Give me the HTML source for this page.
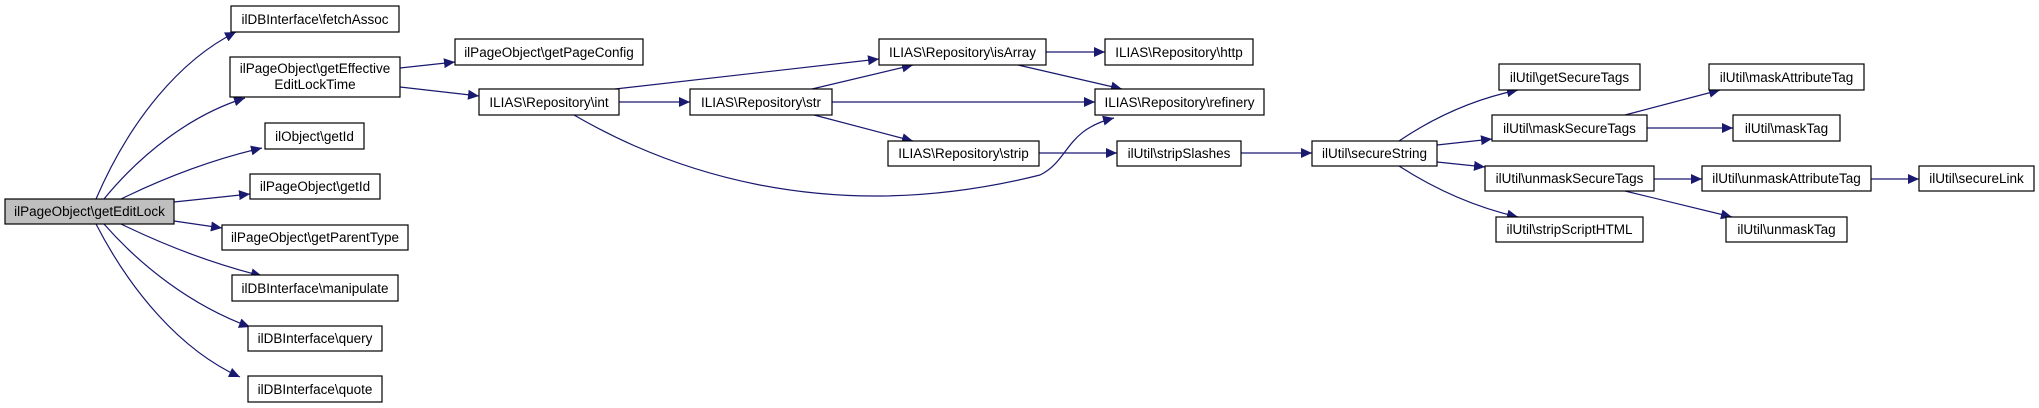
<!DOCTYPE html>
<html><head><meta charset="utf-8"><style>
html,body{margin:0;padding:0;background:#fff;}
svg{display:block;}
text{font-family:"Liberation Sans",sans-serif;font-size:13.5px;fill:#000;}
</style></head><body>
<svg width="2039" height="408" viewBox="0 0 2039 408" xmlns="http://www.w3.org/2000/svg">
<defs>
<marker id="a" markerUnits="userSpaceOnUse" markerWidth="12" markerHeight="10" refX="11" refY="5" orient="auto">
<path d="M0,0 L11,5 L0,10 Z" fill="#191970"/>
</marker>
</defs>
<g fill="none" stroke="#191970" stroke-width="1.2" marker-end="url(#a)">
<path d="M96,199 C130,120 180,60 236,32"/>
<path d="M104,199 C140,155 190,115 245,98"/>
<path d="M121,199 C160,180 210,160 262,148"/>
<path d="M174,202 L250,194"/>
<path d="M174,221 L222,228"/>
<path d="M121,224 C160,243 210,263 262,276"/>
<path d="M104,224 C140,265 190,305 250,327"/>
<path d="M96,224 C130,290 180,350 240,377"/>
<path d="M400,68 L455,62"/>
<path d="M400,87 L479,96"/>
<path d="M615,89 L879,59"/>
<path d="M619,102 L690,102"/>
<path d="M574,115 C660,165 820,230 1040,175 C1070,160 1065,130 1114,118"/>
<path d="M812,89 L913,65"/>
<path d="M832,102 L1095,102"/>
<path d="M814,115 L913,141"/>
<path d="M1046,52 L1105,52"/>
<path d="M1018,65 L1122,89"/>
<path d="M1039,153 L1117,153"/>
<path d="M1241,153 L1312,153"/>
<path d="M1399,141 C1430,120 1470,100 1518,90"/>
<path d="M1437,145 L1492,139"/>
<path d="M1437,162 L1485,167"/>
<path d="M1399,166 C1430,186 1470,206 1518,217"/>
<path d="M1625,115 L1720,90"/>
<path d="M1647,128 L1733,128"/>
<path d="M1654,179 L1702,179"/>
<path d="M1625,191 L1732,217"/>
<path d="M1871,179 L1919,179"/>
</g>
<g stroke="#000" stroke-width="1.2" fill="#fff">
<rect x="5" y="199" width="169" height="25" fill="#bfbfbf"/>
<rect x="231" y="6" width="168" height="26"/>
<rect x="230" y="57" width="170" height="40"/>
<rect x="455" y="39" width="188" height="26"/>
<rect x="479" y="89" width="140" height="26"/>
<rect x="265" y="123" width="99" height="26"/>
<rect x="250" y="174" width="130" height="25"/>
<rect x="222" y="225" width="186" height="25"/>
<rect x="232" y="275" width="166" height="26"/>
<rect x="248" y="326" width="134" height="25"/>
<rect x="248" y="376" width="134" height="26"/>
<rect x="690" y="89" width="142" height="26"/>
<rect x="879" y="39" width="167" height="26"/>
<rect x="1105" y="39" width="148" height="26"/>
<rect x="1095" y="89" width="169" height="26"/>
<rect x="888" y="141" width="151" height="25"/>
<rect x="1117" y="141" width="124" height="25"/>
<rect x="1312" y="141" width="125" height="25"/>
<rect x="1499" y="64" width="141" height="26"/>
<rect x="1492" y="115" width="155" height="26"/>
<rect x="1485" y="166" width="169" height="25"/>
<rect x="1496" y="217" width="147" height="25"/>
<rect x="1709" y="64" width="155" height="26"/>
<rect x="1733" y="115" width="107" height="26"/>
<rect x="1702" y="166" width="169" height="25"/>
<rect x="1726" y="217" width="121" height="25"/>
<rect x="1919" y="166" width="115" height="25"/>
</g>
<g text-anchor="middle">
<text x="89.5" y="216">ilPageObject\getEditLock</text>
<text x="315" y="24">ilDBInterface\fetchAssoc</text>
<text x="315" y="73">ilPageObject\getEffective</text>
<text x="315" y="89">EditLockTime</text>
<text x="549" y="57">ilPageObject\getPageConfig</text>
<text x="549" y="107">ILIAS\Repository\int</text>
<text x="314.5" y="141">ilObject\getId</text>
<text x="315" y="191">ilPageObject\getId</text>
<text x="315" y="242">ilPageObject\getParentType</text>
<text x="315" y="293">ilDBInterface\manipulate</text>
<text x="315" y="343">ilDBInterface\query</text>
<text x="315" y="394">ilDBInterface\quote</text>
<text x="761" y="107">ILIAS\Repository\str</text>
<text x="962.5" y="57">ILIAS\Repository\isArray</text>
<text x="1179" y="57">ILIAS\Repository\http</text>
<text x="1179.5" y="107">ILIAS\Repository\refinery</text>
<text x="963.5" y="158">ILIAS\Repository\strip</text>
<text x="1179" y="158">ilUtil\stripSlashes</text>
<text x="1374.5" y="158">ilUtil\secureString</text>
<text x="1569.5" y="82">ilUtil\getSecureTags</text>
<text x="1569.5" y="133">ilUtil\maskSecureTags</text>
<text x="1569.5" y="183">ilUtil\unmaskSecureTags</text>
<text x="1569.5" y="234">ilUtil\stripScriptHTML</text>
<text x="1786.5" y="82">ilUtil\maskAttributeTag</text>
<text x="1786.5" y="133">ilUtil\maskTag</text>
<text x="1786.5" y="183">ilUtil\unmaskAttributeTag</text>
<text x="1786.5" y="234">ilUtil\unmaskTag</text>
<text x="1976.5" y="183">ilUtil\secureLink</text>
</g>
</svg>
</body></html>
